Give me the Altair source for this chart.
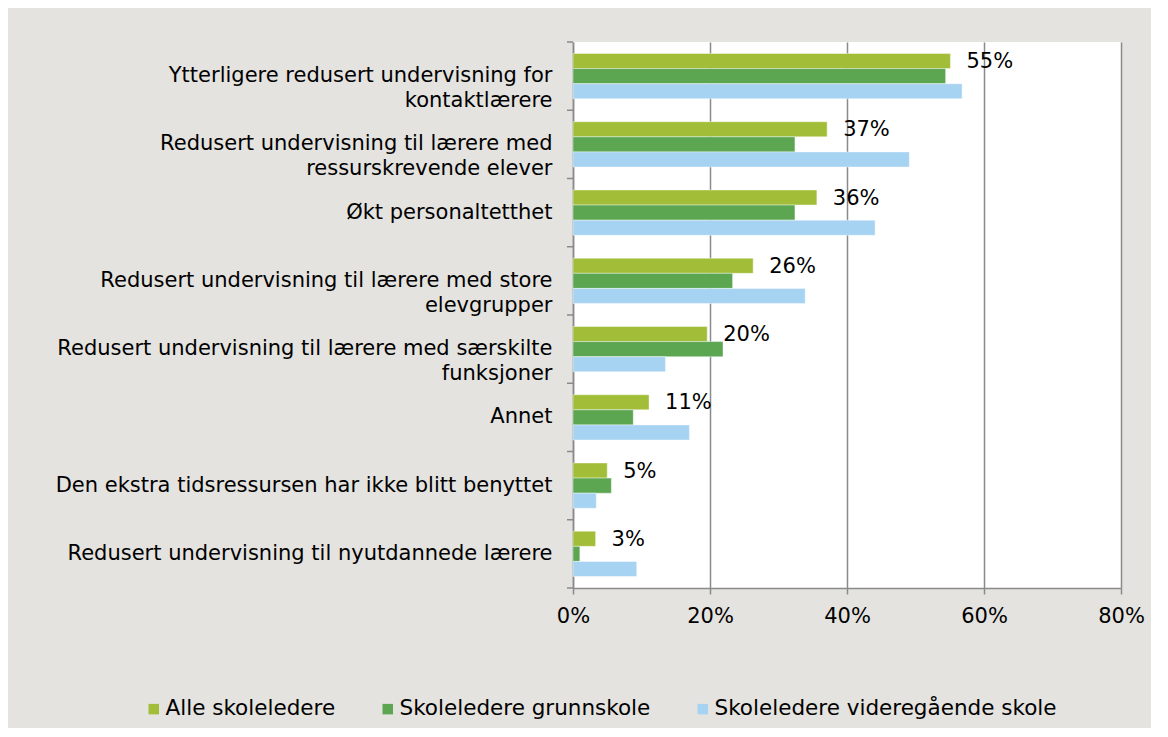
import altair as alt
import pandas as pd

categories = [
    "Ytterligere redusert undervisning for|kontaktlærere",
    "Redusert undervisning til lærere med|ressurskrevende elever",
    "Økt personaltetthet",
    "Redusert undervisning til lærere med store|elevgrupper",
    "Redusert undervisning til lærere med særskilte|funksjoner",
    "Annet",
    "Den ekstra tidsressursen har ikke blitt benyttet",
    "Redusert undervisning til nyutdannede lærere",
]
series = ["Alle skoleledere", "Skoleledere grunnskole", "Skoleledere videregående skole"]
alle = [55.1, 37.1, 35.6, 26.3, 19.6, 11.1, 5.0, 3.3]
grunnskole = [54.4, 32.4, 32.4, 23.3, 21.9, 8.8, 5.6, 1.0]
videregaende = [56.8, 49.1, 44.1, 33.9, 13.5, 17.0, 3.4, 9.3]
colors = ["#A2BE38", "#5CA652", "#A7D3F3"]
x_ticks = [0, 20, 40, 60, 80]

rows = []
for s, vals in zip(series, [alle, grunnskole, videregaende]):
    for c, v in zip(categories, vals):
        rows.append({"cat": c, "series": s, "v": v})
df = pd.DataFrame(rows)
cat_df = pd.DataFrame({"cat": categories})
last_df = pd.DataFrame({"cat": categories[-1:]})

FONT = "DejaVu Sans"
GREY = "#8a8a8a"

y_enc = alt.Y(
    "cat:N",
    sort=categories,
    scale=alt.Scale(paddingInner=0, paddingOuter=0),
    axis=alt.Axis(
        title=None,
        labelExpr="split(datum.value, '|')",
        labelFontSize=21,
        labelFont=FONT,
        labelColor="#000000",
        labelLineHeight=25,
        labelPadding=21,
        labelLimit=0,
        ticks=False,
        domainColor=GREY,
        domainWidth=1.5,
        grid=False,
    ),
)
yoff_enc = alt.YOffset(
    "series:N",
    sort=series,
    scale=alt.Scale(domain=series, paddingInner=0, paddingOuter=0.76),
)

bars = alt.Chart(df).mark_bar(stroke="white", strokeWidth=0.6, strokeOpacity=0.7).encode(
    x=alt.X(
        "v:Q",
        scale=alt.Scale(domain=[0, 80], nice=False),
        axis=alt.Axis(
            title=None,
            values=x_ticks,
            labelExpr="datum.value + '%'",
            labelFontSize=21,
            labelFont=FONT,
            labelColor="#000000",
            labelPadding=11,
            labelFlush=False,
            tickSize=6,
            tickColor=GREY,
            tickWidth=1.5,
            domainColor=GREY,
            domainWidth=1.5,
            grid=True,
            gridColor=GREY,
            gridWidth=1.5,
        ),
    ),
    y=y_enc,
    yOffset=yoff_enc,
    color=alt.Color(
        "series:N",
        sort=series,
        scale=alt.Scale(domain=series, range=colors),
        legend=alt.Legend(
            title=None,
            orient="none",
            direction="horizontal",
            legendX=-430,
            legendY=656,
            symbolType="square",
            symbolSize=110,
            symbolStrokeWidth=0,
            symbolOpacity=1,
            labelFontSize=21.5,
            labelFont=FONT,
            labelColor="#000000",
            labelOffset=1,
            labelLimit=0,
            columnPadding=41,
            padding=0,
        ),
    ),
)

tick_rules = alt.Chart(cat_df).mark_rule(color=GREY, strokeWidth=1.5).encode(
    y=alt.Y("cat:N", sort=categories, bandPosition=0),
    x=alt.value(-6),
    x2=alt.value(0),
)
bottom_rule = alt.Chart(last_df).mark_rule(color=GREY, strokeWidth=1.5).encode(
    y=alt.Y("cat:N", sort=categories, bandPosition=1),
    x=alt.value(-6),
    x2=alt.value(0),
)

labels = alt.Chart(df[df["series"] == series[0]]).transform_calculate(
    label="format(datum.v, '.0f') + '%'"
).mark_text(align="left", baseline="middle", dx=16, dy=1, fontSize=21, font=FONT, color="#000000").encode(
    x=alt.X("v:Q"),
    y=alt.Y("cat:N", sort=categories),
    yOffset=alt.YOffset("series:N", sort=series),
    text="label:N",
)

chart = (
    alt.layer(bars, tick_rules, bottom_rule, labels)
    .properties(
        width=548,
        height=546,
        autosize=alt.AutoSizeParams(type="none"),
        padding={"left": 565, "top": 34, "right": 30, "bottom": 140},
        background="#E4E3DF",
    )
    .configure_view(fill="white", stroke=None)
)

chart.save("out.html", embed_options={"renderer": "svg", "actions": False})
